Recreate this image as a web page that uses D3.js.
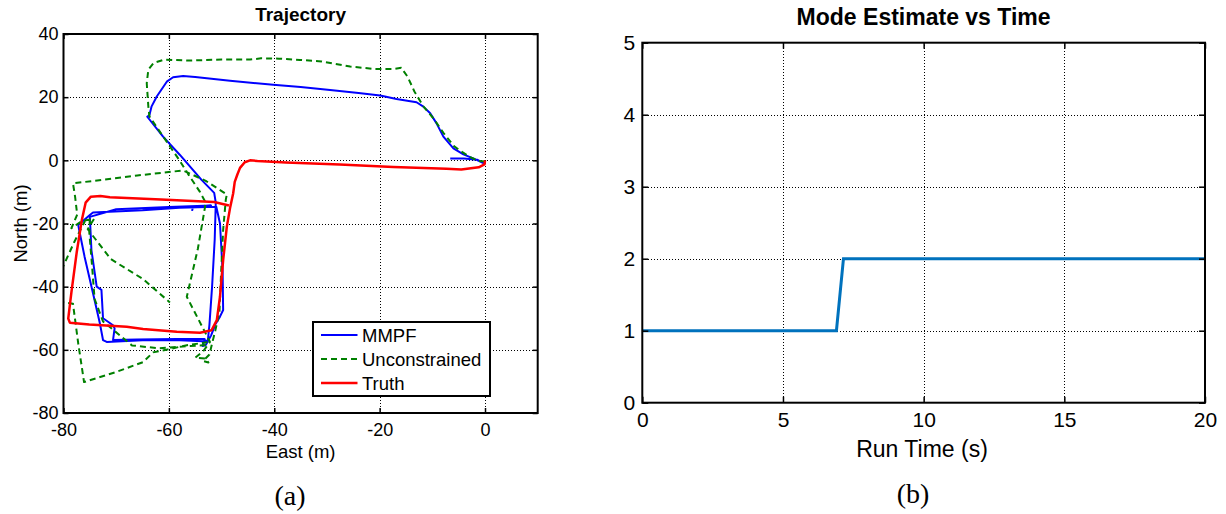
<!DOCTYPE html>
<html>
<head>
<meta charset="utf-8">
<script src="https://cdn.jsdelivr.net/npm/d3@7"></script>
<style>
  body { margin: 0; background: #fff; }
  svg { display: block; }
  text { font-family: Arial, "Liberation Sans", Helvetica, sans-serif; fill: #000; }
</style>
</head>
<body>
<svg id="fig" width="1226" height="514"></svg>
<script>
// ---------- Panel (a): trajectory, East / North in metres ----------
const trajTicksX = [-80, -60, -40, -20, 0];
const trajTicksY = [-80, -60, -40, -20, 0, 20, 40];
const seriesNames = ["MMPF", "Unconstrained", "Truth"];

// MMPF estimate
const mmpfTrack = [
  [-6.6,0.6],[-4,0.6],[-1.5,0.2],[-0.3,-0.9],[-1.8,0.3],[-4.1,1.9],[-6,3.8],[-7.9,7.5],
  [-9.2,11.7],[-10.4,14.9],[-11.7,17],[-13,18.4],[-16.8,19.4],[-19.9,20.5],[-24,21.3],
  [-29.4,22.3],[-35,23.2],[-40.2,23.9],[-48.4,25.2],[-55,26.4],[-57.3,26.7],[-59.2,26.3],
  [-60.4,24.9],[-62.3,20.2],[-63.3,17],[-63.7,14.3],[-64.1,13.8],[-61.1,7.5],[-57.9,1.7],
  [-53.8,-6.2],[-51.4,-10.3],[-51.1,-13.4],
  [-51.3,-25],[-51.8,-40],[-52.3,-52],[-52.6,-57],[-53.5,-57.3],
  [-58,-57],[-65,-57],[-71.8,-57.5],[-72.5,-56.9],[-73.1,-51.6],[-74.4,-42.1],[-76,-30.5],
  [-76.9,-23.1],[-77.2,-20.5],[-75,-17.3],[-74.4,-16.5],
  [-65,-15.8],[-58,-15],[-51,-14.7],
  [-50.3,-20],[-49.8,-35],[-49.7,-47.4],[-50.3,-49.5],[-51.2,-52],[-52,-55.5],[-53,-58.5],[-53.6,-58.8],
  [-53.2,-56.6],[-58.5,-56.6],[-66,-56.7],[-70.6,-56.9],[-70.3,-53.2],[-70.6,-52.2],[-72.5,-50],
  [-72.8,-41],[-73.7,-40],[-74.7,-28.4],[-75,-17.9],
  [-70,-15.5],[-60,-14.8],[-52,-14.3],[-55.4,-14.6],[-55.6,-16]
];

// Unconstrained estimate (null = gap in the track)
const unconstrainedTrack = [
  [0,-0.4],[-1.2,-0.2],[-2.8,1.0],[-4.3,2.6],[-5.9,4.5],[-7.9,8.7],[-9.6,12.9],[-11.7,17.1],
  [-13.4,21.8],[-14.7,26.5],[-15.9,29.3],[-17.5,28.9],[-20.8,28.9],[-25.6,29.7],[-31,31.3],
  [-35.1,31.8],[-39.1,32.2],[-42.5,32.3],[-44.6,31.9],[-50,31.9],[-56.1,31.6],[-60.9,31.9],
  [-62.9,30.8],[-63.9,28.7],[-64.2,24.4],[-63.9,17.1],[-63.7,13.9],[-60.9,7.1],[-58.1,0.3],
  [-56.1,-5],[-54.1,-10],[-53,-13.4],[-54.5,-28],[-56.6,-43.2],[-54.5,-50],[-52.2,-57.5],
  [-53.5,-60.5],[-55,-62.5],[-53,-62.8],[-52.5,-64],[-53.5,-63.5],[-52.3,-61.5],[-51.8,-58],
  [-51.2,-54],[-50.4,-48],[-50.1,-36],[-49.7,-22],[-49.2,-12.5],[-49,-10.8],[-53,-6.5],
  [-57.3,-3.2],[-66,-4.8],[-78.2,-7.3],[-77.8,-11.5],[-77.4,-17.2],[-78.5,-21.5],[-76.5,-19.2],
  [-74.2,-18.5],[-75.4,-21.8],[-71,-31.3],[-64.9,-37.6],[-59.8,-45],
  null,
  [-75.8,-18.8],[-78,-26],[-81,-37],
  null,
  [-81,-44.8],[-78.2,-45.4],[-77.2,-58],[-76.1,-70.2],[-70,-67],[-64.9,-63.9],[-63,-60.8],
  [-60.5,-60],[-56.8,-58.6],[-52.7,-57.6],
  null,
  [-75,-18.5],[-75.1,-22.9],[-74.6,-33],[-74.1,-43.9],[-72.5,-51],[-67,-58.6],[-62,-59.5],
  [-56,-58.8],[-53,-58.5]
];

// Ground truth
const truthTrack = [
  [-48.6,-14.3],[-51.4,-13.2],[-61.5,-12.4],[-71.2,-11.7],[-73,-11.3],[-74.8,-11.5],[-75.8,-13.4],
  [-76.5,-18.7],[-77.5,-29.2],[-78.5,-41.8],[-79.1,-50.1],[-78.8,-51.4],[-75.1,-52],[-68,-52.7],
  [-64.9,-53.4],[-58.5,-54.3],[-54.1,-54.6],[-51.9,-53.8],[-50.9,-50.6],[-50.3,-43.2],
  [-49.7,-31.6],[-49,-21],[-48.4,-15.2],[-47.8,-10.5],[-47.5,-6.8],[-47,-4.5],[-46.5,-2.4],
  [-45.6,-0.6],[-44.6,0],[-43.2,-0.2],[-37.8,-0.7],[-27.6,-1.3],[-17.4,-2.1],[-7.3,-2.7],
  [-4.5,-2.9],[-1.2,-2.2],[-0.1,-1.3],[0,0]
];

// ---------- Panel (b): mode estimate over time ----------
const modeTicksX = [0, 5, 10, 15, 20];
const modeTicksY = [0, 1, 2, 3, 4, 5];
const runTime = [0, 6.9, 7.15, 20];
const modeValue = [1, 1, 2, 2];

const svg = d3.select("#fig");
// plain hyphen-minus for negative tick labels
const tickFmt = d => String(d);

function frame(g, x, y, ticksX, ticksY) {
  const [x0, x1] = x.range();
  const [y0, y1] = y.range(); // y0 bottom, y1 top
  const snap = v => Math.round(v) + 0.5;
  // dotted grid at interior ticks
  const grid = g.append("g").attr("stroke", "#000").attr("stroke-width", 1)
    .attr("stroke-dasharray", "1,2").attr("fill", "none").attr("shape-rendering", "crispEdges");
  ticksX.filter(v => x(v) > x0 + 1 && x(v) < x1 - 1).forEach(v => {
    grid.append("line").attr("x1", snap(x(v))).attr("x2", snap(x(v))).attr("y1", y0).attr("y2", y1);
  });
  ticksY.filter(v => y(v) < y0 - 1 && y(v) > y1 + 1).forEach(v => {
    grid.append("line").attr("y1", snap(y(v))).attr("y2", snap(y(v))).attr("x1", x0).attr("x2", x1);
  });
}

function axes(g, x, y, ticksX, ticksY, opt) {
  const [x0, x1] = x.range();
  const [y0, y1] = y.range();
  const style = sel => {
    sel.select(".domain").remove();
    sel.selectAll(".tick line").attr("stroke", "#000").attr("stroke-width", 1.5);
    sel.selectAll(".tick text").style("font-size", opt.tickFont + "px").attr("fill", "#000");
  };
  g.append("g").attr("transform", `translate(0,${y0})`)
    .call(d3.axisBottom(x).tickValues(ticksX).tickSize(-opt.tickLen).tickPadding(opt.padX).tickFormat(tickFmt))
    .call(style);
  g.append("g").attr("transform", `translate(0,${y1})`)
    .call(d3.axisTop(x).tickValues(ticksX).tickSize(-opt.tickLen).tickFormat(""))
    .call(style);
  g.append("g").attr("transform", `translate(${x0},0)`)
    .call(d3.axisLeft(y).tickValues(ticksY).tickSize(-opt.tickLen).tickPadding(opt.padY).tickFormat(tickFmt))
    .call(style);
  g.append("g").attr("transform", `translate(${x1},0)`)
    .call(d3.axisRight(y).tickValues(ticksY).tickSize(-opt.tickLen).tickFormat(""))
    .call(style);
  g.selectAll(".tick text").attr("font-family", null);
  g.append("rect").attr("x", x0).attr("y", y1).attr("width", x1 - x0).attr("height", y0 - y1)
    .attr("fill", "none").attr("stroke", "#000").attr("stroke-width", 2);
}

// ---------- draw panel (a) ----------
const xA = d3.scaleLinear().domain([-80, 10]).range([63.5, 537.7]);
const yA = d3.scaleLinear().domain([-80, 40]).range([413, 34]);
const gA = svg.append("g");
frame(gA, xA, yA, trajTicksX, trajTicksY);

svg.append("clipPath").attr("id", "clipA").append("rect")
  .attr("x", 63.5).attr("y", 34).attr("width", 537.7 - 63.5).attr("height", 413 - 34);

const lineA = d3.line().defined(d => d !== null).x(d => xA(d[0])).y(d => yA(d[1]));
const tracks = [
  { data: mmpfTrack, color: "#0000ff", width: 2, dash: null },
  { data: unconstrainedTrack, color: "#008000", width: 2, dash: "6,4" },
  { data: truthTrack, color: "#ff0000", width: 2.5, dash: null }
];
const plotA = gA.append("g").attr("clip-path", "url(#clipA)");
tracks.forEach(t => {
  plotA.append("path").datum(t.data).attr("d", lineA)
    .attr("fill", "none").attr("stroke", t.color).attr("stroke-width", t.width)
    .attr("stroke-linejoin", "round").attr("stroke-dasharray", t.dash);
});

axes(gA, xA, yA, trajTicksX, trajTicksY, { tickFont: 18, tickLen: 5, padX: 10, padY: 5 });

gA.append("text").attr("x", 300.6).attr("y", 21).attr("text-anchor", "middle")
  .style("font-size", "19px").style("font-weight", "bold").text("Trajectory");
gA.append("text").attr("x", 300.6).attr("y", 458).attr("text-anchor", "middle")
  .style("font-size", "18.5px").text("East (m)");
gA.append("text").attr("transform", "translate(27,223.5) rotate(-90)").attr("text-anchor", "middle")
  .style("font-size", "18.5px").text("North (m)");

// legend
const leg = gA.append("g");
leg.append("rect").attr("x", 313).attr("y", 322).attr("width", 177).attr("height", 74)
  .attr("fill", "#fff").attr("stroke", "#000").attr("stroke-width", 2);
tracks.forEach((t, i) => {
  const yy = 335 + i * 24;
  leg.append("line").attr("x1", 321).attr("x2", 357.5).attr("y1", yy).attr("y2", yy)
    .attr("stroke", t.color).attr("stroke-width", t.width).attr("stroke-dasharray", t.dash);
  leg.append("text").attr("x", 362).attr("y", yy).attr("dy", "0.36em")
    .style("font-size", "18.5px").text(seriesNames[i]);
});

svg.append("text").attr("x", 290).attr("y", 505).attr("text-anchor", "middle")
  .style("font-family", "'Liberation Serif','DejaVu Serif',serif").style("font-size", "28px").text("(a)");

// ---------- draw panel (b) ----------
const xB = d3.scaleLinear().domain([0, 20]).range([642.3, 1205]);
const yB = d3.scaleLinear().domain([0, 5]).range([402.7, 42.7]);
const gB = svg.append("g");
frame(gB, xB, yB, modeTicksX, modeTicksY);

const lineB = d3.line().x((d, i) => xB(runTime[i])).y(d => yB(d));
gB.append("path").datum(modeValue).attr("d", lineB)
  .attr("fill", "none").attr("stroke", "#0072bd").attr("stroke-width", 3);

axes(gB, xB, yB, modeTicksX, modeTicksY, { tickFont: 21, tickLen: 6, padX: 9.5, padY: 7 });

gB.append("text").attr("x", 923.6).attr("y", 25).attr("text-anchor", "middle")
  .style("font-size", "23px").style("font-weight", "bold").text("Mode Estimate vs Time");
gB.append("text").attr("x", 922).attr("y", 457).attr("text-anchor", "middle")
  .style("font-size", "23px").text("Run Time (s)");

svg.append("text").attr("x", 913).attr("y", 503).attr("text-anchor", "middle")
  .style("font-family", "'Liberation Serif','DejaVu Serif',serif").style("font-size", "28px").text("(b)");
</script>
</body>
</html>
